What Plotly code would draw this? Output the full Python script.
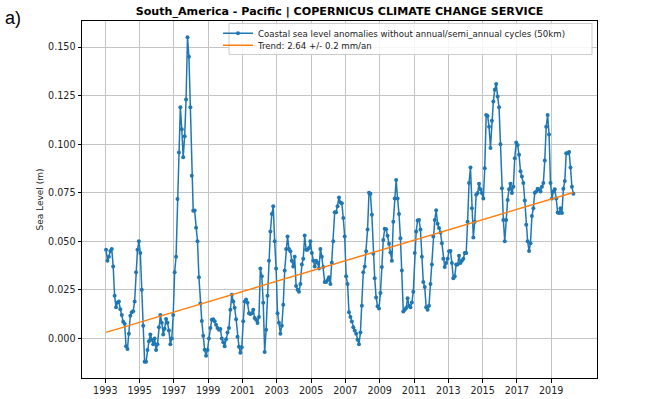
import plotly.graph_objects as go

# ---- data ----
start_year = 1993
sea_level = [
    0.0456, 0.040, 0.042, 0.045, 0.046, 0.037, 0.022, 0.016, 0.0185, 0.019, 0.015, 0.012,            # 1993
    0.0086, 0.0075, -0.004, -0.0055, 0.0024, 0.0117, 0.0135, 0.014, 0.019, 0.034, 0.0456, 0.050,    # 1994
    0.044, 0.025, 0.0065, -0.012, -0.012, -0.006, -0.0015, 0.002, -0.0007, -0.003, 0.000, -0.006,   # 1995
    -0.003, 0.0057, 0.012, 0.008, 0.002, 0.005, 0.010, 0.008, 0.004, -0.003, 0.000, 0.012,          # 1996
    0.034, 0.042, 0.0717, 0.0957, 0.119, 0.1077, 0.0933, 0.104, 0.123, 0.155, 0.145, 0.119,         # 1997
    0.0837, 0.0657, 0.0658, 0.057, 0.050, 0.0315, 0.018, 0.009, 0.0014, -0.0058, -0.0089, -0.006,  # 1998
    0.000, 0.0053, 0.0096, 0.0099, 0.0088, 0.007, 0.0053, 0.0045, 0.0048, 0.000, -0.002, -0.004,   # 1999
    -0.0005, 0.003, 0.0053, 0.0148, 0.0225, 0.019, 0.0158, 0.0099, 0.0009, -0.0043, -0.0074, -0.0046,  # 2000
    0.0088, 0.019, 0.020, 0.0183, 0.013, 0.0126, 0.013, 0.0148, 0.0105, 0.0096, 0.0079, 0.011,     # 2001
    0.036, 0.032, 0.0183, -0.007, 0.0045, 0.022, 0.040, 0.055, 0.064, 0.068, 0.050, 0.036,         # 2002
    0.013, 0.008, 0.0024, 0.0065, 0.0173, 0.035, 0.046, 0.0525, 0.046, 0.0448, 0.040, 0.037,        # 2003
    0.042, 0.027, 0.025, 0.024, 0.028, 0.038, 0.041, 0.053, 0.0456, 0.0456, 0.0465, 0.050,          # 2004
    0.044, 0.040, 0.037, 0.040, 0.039, 0.036, 0.046, 0.042, 0.0367, 0.029, 0.029, 0.030,            # 2005
    0.0315, 0.028, 0.039, 0.050, 0.065, 0.065, 0.068, 0.0725, 0.070, 0.0696, 0.062, 0.0525,         # 2006
    0.032, 0.028, 0.0134, 0.011, 0.0087, 0.0057, 0.004, 0.0024, -0.0007, -0.003, 0.003, 0.0168,     # 2007
    0.034, 0.037, 0.0448, 0.056, 0.075, 0.0744, 0.0636, 0.0436, 0.031, 0.021, 0.0165, 0.0154,       # 2008
    0.0233, 0.0367, 0.0507, 0.0564, 0.0562, 0.0528, 0.0487, 0.0442, 0.040, 0.060, 0.072, 0.0816,    # 2009
    0.072, 0.064, 0.0516, 0.035, 0.0139, 0.0147, 0.0156, 0.0207, 0.0168, 0.016, 0.0185, 0.024,      # 2010
    0.044, 0.055, 0.0607, 0.061, 0.056, 0.042, 0.029, 0.0264, 0.016, 0.0147, 0.0168, 0.028,         # 2011
    0.038, 0.0525, 0.061, 0.066, 0.059, 0.0568, 0.0545, 0.049, 0.041, 0.0367, 0.0388, 0.041,        # 2012
    0.0448, 0.045, 0.0388, 0.031, 0.032, 0.038, 0.038, 0.0425, 0.0388, 0.040, 0.041, 0.044,         # 2013
    0.044, 0.060, 0.080, 0.088, 0.067, 0.052, 0.060, 0.074, 0.0748, 0.0796, 0.0768, 0.0748,         # 2014
    0.072, 0.0876, 0.115, 0.1145, 0.109, 0.098, 0.112, 0.122, 0.128, 0.131, 0.1245, 0.119,          # 2015
    0.100, 0.0773, 0.061, 0.050, 0.061, 0.0713, 0.0768, 0.0796, 0.0748, 0.078, 0.0928, 0.1008,      # 2016
    0.0996, 0.0945, 0.086, 0.0833, 0.080, 0.071, 0.0585, 0.050, 0.045, 0.049, 0.063, 0.067,         # 2017
    0.075, 0.0756, 0.077, 0.0768, 0.0756, 0.078, 0.080, 0.0916, 0.109, 0.115, 0.105, 0.080,         # 2018
    0.072, 0.0756, 0.0768, 0.072, 0.0648, 0.0645, 0.067, 0.0645, 0.077, 0.081, 0.0953, 0.0953,      # 2019
    0.096, 0.088, 0.078, 0.0744,                                                                   # 2020
]
trend_start_value = 0.0031
trend_end_value = 0.0751
tick_years = [1993, 1995, 1997, 1999, 2001, 2003, 2005, 2007, 2009, 2011, 2013, 2015, 2017, 2019]
y_ticks = [0.0, 0.025, 0.05, 0.075, 0.1, 0.125, 0.15]

series_name = "Coastal sea level anomalies without annual/semi_annual cycles (50km)"
trend_name = "Trend: 2.64 +/- 0.2 mm/an"
title_text = "South_America - Pacific | COPERNICUS CLIMATE CHANGE SERVICE"

# monthly time axis (mid-month decimal years)
times = [start_year + (i + 0.5) / 12 for i in range(len(sea_level))]

FONT = "DejaVu Sans"
W, H = 670, 399
ML, MR, MT, MB = 82, 73, 21, 21
PW, PH = W - ML - MR, H - MT - MB


def px_x(x):  # pixel -> paper x
    return (x - ML) / PW


def px_y(y):  # pixel -> paper y
    return (H - MB - y) / PH


fig = go.Figure()
fig.add_trace(go.Scatter(
    x=times, y=sea_level, mode="lines+markers", name=series_name,
    line=dict(color="#1f77b4", width=1.5),
    marker=dict(color="#1f77b4", size=4),
    legend="legend",
))
fig.add_trace(go.Scatter(
    x=[times[0], times[-1]], y=[trend_start_value, trend_end_value], mode="lines",
    name=trend_name, line=dict(color="#ff7f0e", width=1.5),
    legend="legend2",
))

axis_common = dict(
    showgrid=True, gridcolor="#c4c4c4", gridwidth=1,
    showline=True, mirror=True, linecolor="black", linewidth=1,
    ticks="outside", ticklen=3.5, tickwidth=0.8, tickcolor="black",
    zeroline=False, automargin=False,
    tickfont=dict(family=FONT, size=9.6, color="#222"),
)

legend_common = dict(
    x=px_x(218), xanchor="left", yanchor="middle",
    bgcolor="rgba(0,0,0,0)", borderwidth=0,
    font=dict(family=FONT, size=8.6, color="#222"),
    itemwidth=30, itemclick=False, itemdoubleclick=False,
)

fig.update_layout(
    width=W, height=H,
    margin=dict(l=ML, r=MR, t=MT, b=MB, autoexpand=False),
    paper_bgcolor="white", plot_bgcolor="white",
    font=dict(family=FONT, color="#222"),
    title=dict(text="<b>" + title_text + "</b>", x=0.5068, xanchor="center",
               y=1 - 11.5 / H, yanchor="middle", yref="container", automargin=False,
               font=dict(family=FONT, size=11.1, color="black")),
    xaxis=dict(range=[1991.64, 2021.67], tickvals=tick_years,
               ticktext=[str(y) for y in tick_years], **axis_common),
    yaxis=dict(range=[-0.0204, 0.1634], tickvals=y_ticks, tickformat=".3f",
               title=dict(text="Sea Level (m)", font=dict(family=FONT, size=9, color="#222"), standoff=2),
               **axis_common),
    legend=dict(y=px_y(33.3), **legend_common),
    legend2=dict(y=px_y(45.3), **legend_common),
    showlegend=True,
    hovermode=False,
)

# legend frame (semi-transparent white box like the reference)
fig.add_shape(type="rect", xref="paper", yref="paper",
              x0=px_x(229), x1=px_x(592), y0=px_y(54.5), y1=px_y(23.5),
              fillcolor="rgba(255,255,255,0.85)", line=dict(color="#cccccc", width=1),
              layer="above")

fig.add_annotation(text="a)", xref="paper", yref="paper",
                   x=px_x(3), xanchor="left", y=px_y(18), yanchor="middle",
                   showarrow=False, font=dict(family="Liberation Sans", size=18, color="black"))

# remove the page's default body margin so the figure sits at the window's top-left corner
fig.write_html("out.html", config={"displayModeBar": False, "staticPlot": False},
               post_script="document.body.style.margin='0px';")
